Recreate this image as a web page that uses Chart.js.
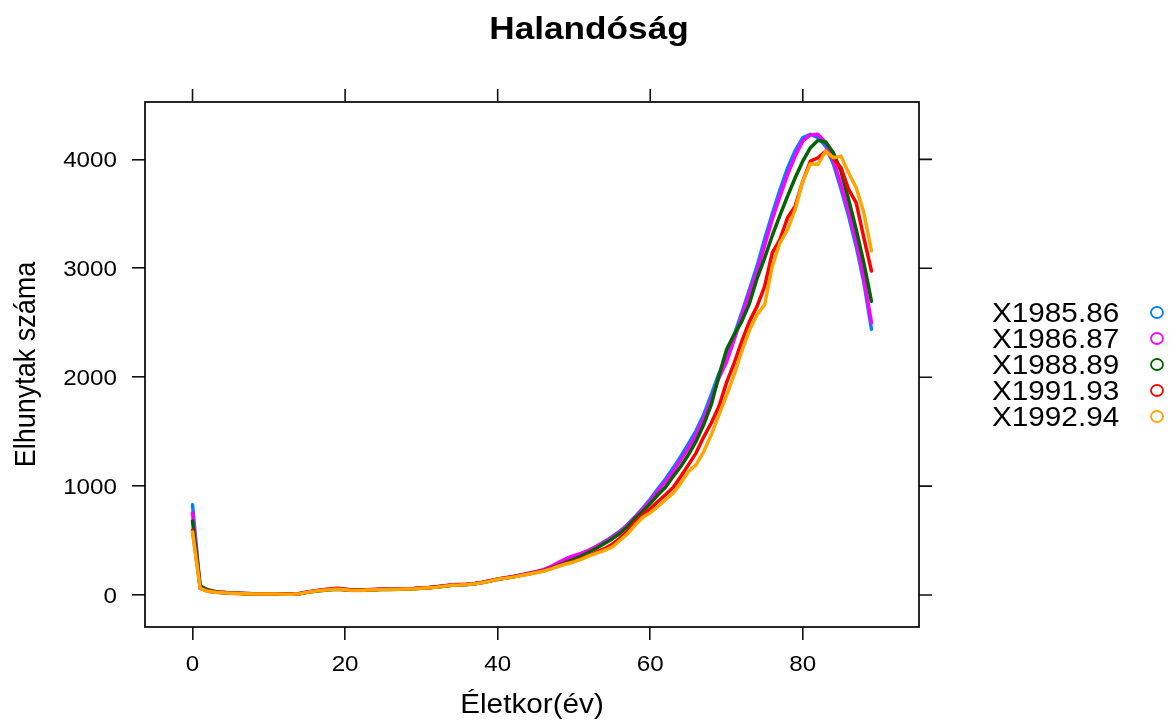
<!DOCTYPE html>
<html>
<head>
<meta charset="utf-8">
<title>Halandóság</title>
<script src="https://cdn.jsdelivr.net/npm/chart.js@4.4.1/dist/chart.umd.min.js"></script>
<style>
  html, body { margin: 0; padding: 0; background: #fff; }
  #wrap { width: 1171px; height: 722px; }
</style>
</head>
<body>
<div id="wrap"><canvas id="halandosag" width="1171" height="722"></canvas></div>
<script>
// ages 0..89
var ages = [];
for (var i = 0; i <= 89; i++) ages.push(i);

var seriesNames = ['X1985.86', 'X1986.87', 'X1988.89', 'X1991.93', 'X1992.94'];
var seriesColors = ['#0080ff', '#ff00ff', '#006400', '#ff0000', '#ffa500'];

var x1985_86 = [828, 62, 36, 27, 21, 18, 15, 12, 10, 9, 9, 9, 8, 7, 12, 26, 36, 44, 50, 54, 50, 44, 44, 47, 50, 53,
  52, 54, 56, 58, 63, 68, 74, 82, 92, 94, 97, 105, 115, 128, 145,
  156, 168, 182, 196, 211, 227, 255, 285, 315, 345, 378, 411, 450, 490, 535, 585, 645,
  720, 795, 880, 975, 1065, 1165, 1272, 1388, 1508, 1655, 1839, 2030, 2170, 2390, 2590, 2805,
  3020, 3270, 3500, 3720, 3920, 4080, 4200, 4230, 4200, 4120, 3960, 3730, 3480, 3200, 2870, 2440];

var x1986_87 = [754, 64, 35, 26, 22, 17, 14, 13, 11, 9, 8, 10, 9, 8, 13, 27, 37, 45, 52, 55, 49, 45, 43, 48, 51, 52,
  53, 55, 56, 59, 64, 67, 75, 84, 90, 95, 99, 104, 116, 130, 146,
  158, 170, 184, 199, 214, 232, 262, 300, 335, 362, 385, 412, 448, 486, 528, 578, 640,
  715, 785, 865, 955, 1042, 1134, 1241, 1349, 1471, 1615, 1793, 1993, 2140, 2345, 2559, 2770,
  2970, 3210, 3450, 3660, 3860, 4030, 4170, 4225, 4230, 4153, 4000, 3770, 3525, 3249, 2912, 2500];

var x1988_89 = [680, 85, 48, 32, 24, 19, 16, 13, 11, 10, 9, 8, 9, 8, 12, 24, 34, 42, 48, 52, 48, 43, 45, 46, 49, 52,
  51, 53, 55, 58, 62, 66, 73, 81, 90, 93, 97, 104, 114, 127, 143,
  155, 166, 180, 194, 208, 224, 248, 275, 302, 330, 360, 395, 432, 472, 515, 565, 625,
  705, 765, 840, 920, 990, 1088, 1180, 1287, 1410, 1563, 1747, 2014, 2253, 2391, 2513, 2676,
  2906, 3096, 3301, 3485, 3663, 3831, 3985, 4107, 4175, 4159, 4061, 3893, 3632, 3356, 3050, 2697];

var x1991_93 = [595, 66, 38, 27, 22, 18, 15, 12, 10, 9, 9, 9, 8, 7, 11, 25, 37, 48, 56, 62, 54, 46, 44, 47, 51, 54,
  53, 55, 58, 60, 64, 69, 76, 83, 93, 96, 99, 106, 117, 130, 148,
  157, 168, 180, 193, 206, 222, 244, 268, 290, 310, 335, 365, 395, 425, 465, 520, 585,
  670, 735, 790, 858, 920, 987, 1088, 1195, 1303, 1450, 1579, 1731, 1950, 2130, 2329, 2510,
  2651, 2835, 3142, 3264, 3464, 3571, 3801, 3985, 4015, 4077, 4006, 3924, 3724, 3601, 3280, 2975];

var x1992_94 = [578, 60, 34, 25, 20, 17, 14, 12, 10, 9, 9, 8, 7, 7, 11, 24, 35, 43, 48, 52, 48, 42, 42, 45, 48, 50,
  50, 52, 54, 56, 61, 66, 72, 80, 90, 92, 96, 103, 113, 127, 144,
  153, 164, 177, 190, 204, 218, 240, 264, 285, 303, 330, 360, 385, 410, 440, 500, 560,
  640, 712, 755, 812, 874, 935, 1027, 1134, 1195, 1315, 1471, 1655, 1830, 2023, 2240, 2430,
  2575, 2667, 3019, 3234, 3356, 3540, 3801, 3960, 3954, 4077, 4015, 4030, 3878, 3740, 3509, 3160];

var xTicks = [0, 20, 40, 60, 80];
var yTicks = [0, 1000, 2000, 3000, 4000];

var allSeries = [x1985_86, x1986_87, x1988_89, x1991_93, x1992_94];

// text in the reference is a little wider than tall
var HS = 1.1;
var FONT = '"Liberation Sans", Arial, Helvetica, sans-serif';
var INK = '#111';

function sText(ctx, str, x, y, size, weight, align, rot) {
  ctx.save();
  ctx.translate(x, y);
  ctx.scale(HS, 1);
  if (rot) ctx.rotate(rot);
  ctx.font = weight + ' ' + size + 'px ' + FONT;
  ctx.fillStyle = '#000';
  ctx.textAlign = align;
  ctx.textBaseline = 'alphabetic';
  ctx.fillText(str, 0, 0);
  ctx.restore();
}

var latticeDeco = {
  id: 'latticeDeco',
  afterDraw: function(chart) {
    var ctx = chart.ctx, a = chart.chartArea;
    var xs = chart.scales.x, ys = chart.scales.y;
    var tl = 13;
    ctx.save();
    ctx.strokeStyle = INK;
    ctx.lineWidth = 1.8;
    ctx.strokeRect(a.left, a.top, a.right - a.left, a.bottom - a.top);
    ctx.lineWidth = 1.6;
    ctx.beginPath();
    xs.ticks.forEach(function(t) {
      var px = xs.getPixelForValue(t.value);
      ctx.moveTo(px, a.top); ctx.lineTo(px, a.top - tl);
    });
    ys.ticks.forEach(function(t) {
      var py = ys.getPixelForValue(t.value);
      ctx.moveTo(a.right, py); ctx.lineTo(a.right + tl, py);
    });
    ctx.stroke();
    ctx.restore();

    // tick labels
    var ts = 22;
    xs.ticks.forEach(function(t) {
      sText(ctx, String(t.value), xs.getPixelForValue(t.value), 671, ts, 'normal', 'center');
    });
    ys.ticks.forEach(function(t) {
      sText(ctx, String(t.value), 117, ys.getPixelForValue(t.value) + 0.358 * ts, ts, 'normal', 'right');
    });

    // titles
    sText(ctx, 'Halandóság', 589, 39, 32, 'bold', 'center');
    sText(ctx, 'Életkor(év)', (a.left + a.right) / 2, 713, 27, 'normal', 'center');
    sText(ctx, 'Elhunytak száma', 35, (a.top + a.bottom) / 2, 27, 'normal', 'center', -Math.PI / 2);

    // key
    var mid = (a.top + a.bottom) / 2;
    seriesNames.forEach(function(name, k) {
      var cy = mid + (k - 2) * 26;
      sText(ctx, name, 992, cy + 0.358 * 27, 27, 'normal', 'left');
      ctx.save();
      ctx.strokeStyle = seriesColors[k];
      ctx.lineWidth = 1.8;
      ctx.beginPath();
      ctx.ellipse(1157, cy, 6, 5.5, 0, 0, Math.PI * 2);
      ctx.stroke();
      ctx.restore();
    });
  }
};

var datasets = allSeries.map(function(vals, k) {
  return {
    label: seriesNames[k],
    data: ages.map(function(age, i) { return { x: age, y: vals[i] }; }),
    borderColor: seriesColors[k],
    backgroundColor: seriesColors[k],
    borderWidth: 3.5,
    borderCapStyle: 'round',
    borderJoinStyle: 'round',
    pointRadius: 0,
    tension: 0,
    fill: false,
    order: 5 - k
  };
});

var ctx = document.getElementById('halandosag').getContext('2d');
window.mortChart = new Chart(ctx, {
  type: 'line',
  data: { datasets: datasets },
  options: {
    responsive: false,
    animation: false,
    devicePixelRatio: 1,
    layout: { padding: { top: 102, right: 252, left: 0, bottom: 0 } },
    plugins: { legend: { display: false }, tooltip: { enabled: false } },
    scales: {
      x: {
        type: 'linear',
        min: -6.23,
        max: 95.23,
        afterBuildTicks: function(s) { s.ticks = xTicks.map(function(v) { return { value: v }; }); },
        afterFit: function(s) { s.height = 95; },
        ticks: { display: false },
        border: { display: false },
        grid: { drawOnChartArea: false, drawTicks: true, tickLength: 13, color: INK, lineWidth: 1.6 }
      },
      y: {
        type: 'linear',
        min: -294,
        max: 4527,
        afterBuildTicks: function(s) { s.ticks = yTicks.map(function(v) { return { value: v }; }); },
        afterFit: function(s) { s.width = 145; },
        ticks: { display: false },
        border: { display: false },
        grid: { drawOnChartArea: false, drawTicks: true, tickLength: 13, color: INK, lineWidth: 1.6 }
      }
    }
  },
  plugins: [latticeDeco]
});
</script>
</body>
</html>
